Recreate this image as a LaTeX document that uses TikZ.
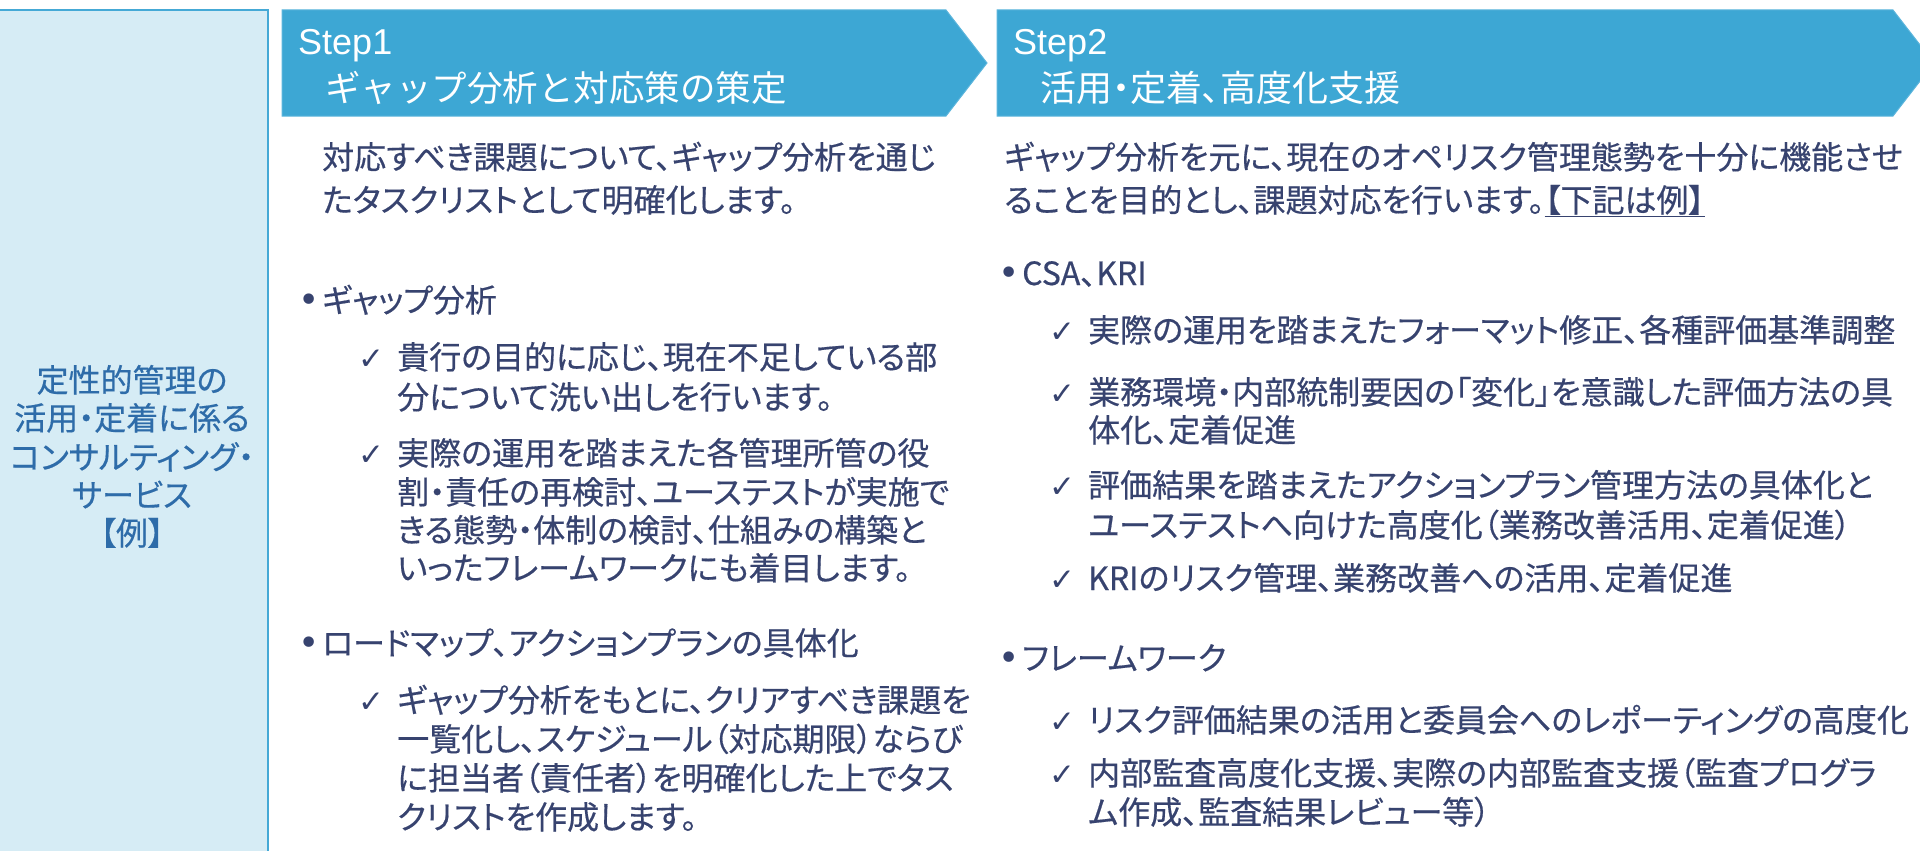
\documentclass[tikz,border=0pt]{standalone}
\usepackage{fontspec}
\setmainfont{Noto Sans CJK JP}[RawFeature=+palt, FakeBold=0.5]
\newfontfamily\jpmono{Noto Sans CJK JP}
\newfontfamily\jpprop{Noto Sans CJK JP}[RawFeature=+palt]
\newfontfamily\latfont{Liberation Sans}
\newfontfamily\symfont{DejaVu Sans}
\definecolor{panelfill}{HTML}{D6ECF5}
\definecolor{panelline}{HTML}{45A9D6}
\definecolor{arrowfill}{HTML}{3DA7D4}
\definecolor{arrowline}{HTML}{5CB5DC}
\definecolor{bodytext}{HTML}{37436F}
\definecolor{paneltext}{HTML}{2E6CA9}
\tikzset{
  ln/.style={anchor=base west, inner sep=0pt, text=bodytext, font=\fontsize{32}{39}\selectfont},
  bul/.style={anchor=base, inner sep=0pt, text=bodytext, font=\symfont\fontsize{36}{39}\selectfont},
  chk/.style={anchor=base, inner sep=0pt, text=bodytext, font=\symfont\fontsize{31}{36}\selectfont},
  pl/.style={anchor=base, inner sep=0pt, text=paneltext, font=\fontsize{32}{38}\selectfont},
  hdlat/.style={anchor=base west, inner sep=0pt, text=white, font=\latfont\fontsize{36}{36}\selectfont},
  hdjp/.style={anchor=base west, inner sep=0pt, text=white, font=\jpmono\fontsize{35.5}{35}\selectfont},
  hdjpp/.style={anchor=base west, inner sep=0pt, text=white, font=\jpprop\fontsize{36}{35}\selectfont},
  arrowshape/.style={fill=arrowfill, draw=arrowline, line width=1pt},
}
\begin{document}
\begin{tikzpicture}[x=1pt,y=-1pt]
\useasboundingbox (0,0) rectangle (1920,851);
\clip (0,0) rectangle (1920,851);
% left panel
\fill[panelfill] (-5,10) rectangle (268,860);
\draw[panelline, line width=2pt] (-5,10) -- (268,10) -- (268,860);
\node[pl] (p1) at (132,392) {定性的管理の};
\node[pl] (p2) at (132,430) {活用・定着に係る};
\node[pl] (p3) at (132,469) {コンサルティング・};
\node[pl] (p4) at (132,507) {サービス};
\node[pl] (p5) at (132,545) {【例】};
% step arrows
\draw[arrowshape] (282,10) -- (946,10) -- (987,63) -- (946,116) -- (282,116) -- cycle;
\draw[arrowshape] (997,10) -- (1893,10) -- (1934,63) -- (1893,116) -- (997,116) -- cycle;
\node[hdlat] (s1t) at (298,55) {Step1};
\node[hdjp] (s1h) at (325,101) {ギャップ分析と対応策の策定};
\node[hdlat] (s2t) at (1013,55) {Step2};
\node[hdjpp] (s2h) at (1040,101) {活用・定着、高度化支援};
% step 1 body
\node[ln] (a1) at (322,169) {対応すべき課題について、ギャップ分析を通じ};
\node[ln] (a2) at (322,212) {たタスクリストとして明確化します。};
\node[bul] (ab1) at (309,312) {•};
\node[ln] (ab1t) at (322,312) {ギャップ分析};
\node[chk] (ac1) at (371,369) {✓};
\node[ln] (ac1a) at (397,369) {貴行の目的に応じ、現在不足している部};
\node[ln] (ac1b) at (397,409) {分について洗い出しを行います。};
\node[chk] (ac2) at (371,465) {✓};
\node[ln] (ac2a) at (397,465) {実際の運用を踏まえた各管理所管の役};
\node[ln] (ac2b) at (397,504) {割・責任の再検討、ユーステストが実施で};
\node[ln] (ac2c) at (397,542) {きる態勢・体制の検討、仕組みの構築と};
\node[ln] (ac2d) at (397,580) {いったフレームワークにも着目します。};
\node[bul] (ab2) at (309,655) {•};
\node[ln] (ab2t) at (322,655) {ロードマップ、アクションプランの具体化};
\node[chk] (ac3) at (371,712) {✓};
\node[ln] (ac3a) at (397,712) {ギャップ分析をもとに、クリアすべき課題を};
\node[ln] (ac3b) at (397,751) {一覧化し、スケジュール（対応期限）ならび};
\node[ln] (ac3c) at (397,790) {に担当者（責任者）を明確化した上でタス};
\node[ln] (ac3d) at (397,829) {クリストを作成します。};
% step 2 body
\node[ln] (b1) at (1004,169) {ギャップ分析を元に、現在のオペリスク管理態勢を十分に機能させ};
\node[ln] (b2) at (1004,212) {ることを目的とし、課題対応を行います。\underline{【下記は例】}};
\node[bul] (bb1) at (1009,285) {•};
\node[ln] (bb1t) at (1022,285) {CSA、KRI};
\node[chk] (bc1) at (1062,342) {✓};
\node[ln] (bc1a) at (1088,342) {実際の運用を踏まえたフォーマット修正、各種評価基準調整};
\node[chk] (bc2) at (1062,404) {✓};
\node[ln] (bc2a) at (1088,404) {業務環境・内部統制要因の「変化」を意識した評価方法の具};
\node[ln] (bc2b) at (1088,442) {体化、定着促進};
\node[chk] (bc3) at (1062,497) {✓};
\node[ln] (bc3a) at (1088,497) {評価結果を踏まえたアクションプラン管理方法の具体化と};
\node[ln] (bc3b) at (1088,537) {ユーステストへ向けた高度化（業務改善活用、定着促進）};
\node[chk] (bc4) at (1062,590) {✓};
\node[ln] (bc4a) at (1088,590) {KRIのリスク管理、業務改善への活用、定着促進};
\node[bul] (bb2) at (1009,670) {•};
\node[ln] (bb2t) at (1022,670) {フレームワーク};
\node[chk] (bc5) at (1062,732) {✓};
\node[ln] (bc5a) at (1088,732) {リスク評価結果の活用と委員会へのレポーティングの高度化};
\node[chk] (bc6) at (1062,785) {✓};
\node[ln] (bc6a) at (1088,785) {内部監査高度化支援、実際の内部監査支援（監査プログラ};
\node[ln] (bc6b) at (1088,824) {ム作成、監査結果レビュー等）};
\end{tikzpicture}
\end{document}
